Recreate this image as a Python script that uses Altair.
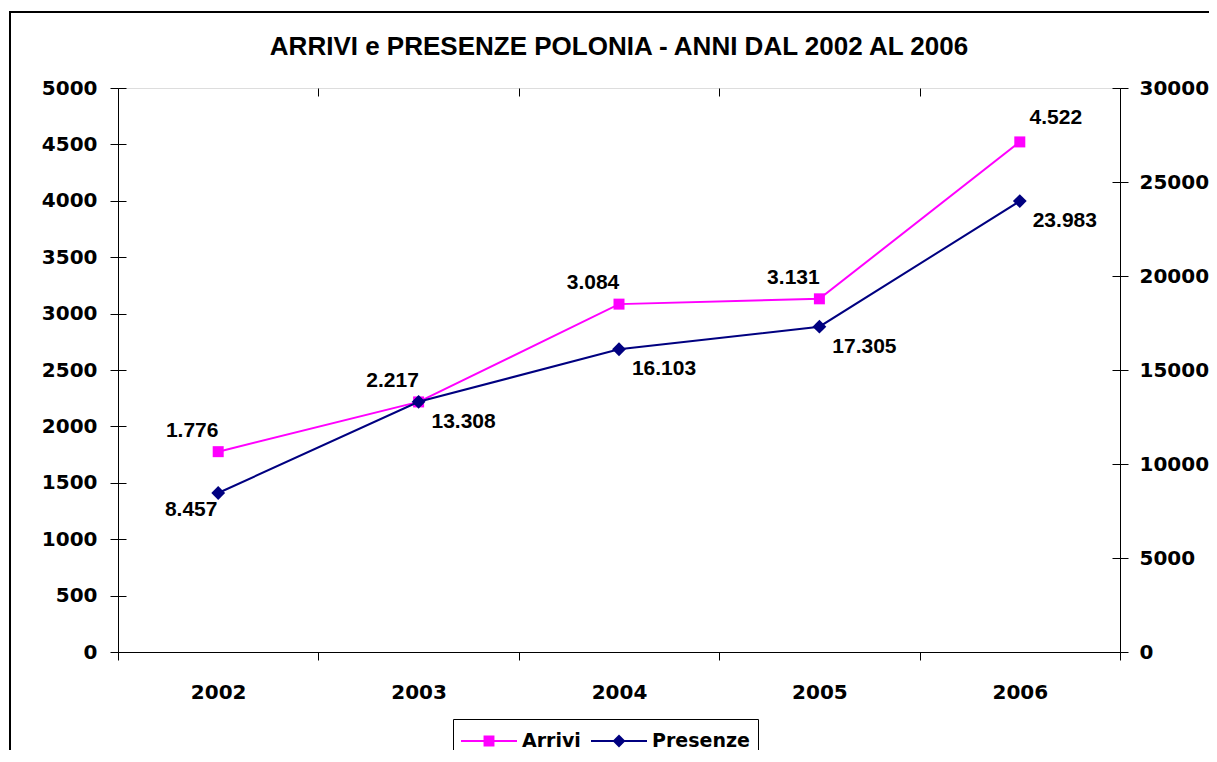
import altair as alt
import pandas as pd

# ---- data ----
anni = ["2002", "2003", "2004", "2005", "2006"]
arrivi = [1776, 2217, 3084, 3131, 4522]
presenze = [8457, 13308, 16103, 17305, 23983]
serie_nomi = ["Arrivi", "Presenze"]
colori = ["#FF00FF", "#000080"]
ticks_sx = list(range(0, 5001, 500))
ticks_dx = list(range(0, 30001, 5000))
titolo = "ARRIVI e PRESENZE POLONIA - ANNI DAL 2002 AL 2006"


def fmt(v):
    return f"{v:,}".replace(",", ".")


df_a = pd.DataFrame({"anno": anni, "valore": arrivi,
                     "label": [fmt(v) for v in arrivi], "serie": "Arrivi"})
df_p = pd.DataFrame({"anno": anni, "valore": presenze,
                     "label": [fmt(v) for v in presenze], "serie": "Presenze"})
df_all = pd.concat([df_a, df_p], ignore_index=True)

W, H = 1002, 564
AX_FONT = "DejaVu Sans"
LBL_FONT = "Liberation Sans"

x_enc = alt.X(
    "anno:N", sort=anni, title=None,
    scale=alt.Scale(type="band", paddingInner=0, paddingOuter=0),
    axis=alt.Axis(labelAngle=0, tickBand="extent", tickSize=8, grid=True,
                  gridDash=[8, 3000], gridColor="black", gridOpacity=1,
                  domainColor="black", tickColor="black",
                  labelFont=AX_FONT, labelFontSize=20, labelFontWeight="bold",
                  labelColor="black", labelPadding=22),
)

y_a = alt.Y(
    "valore:Q", title=None,
    scale=alt.Scale(domain=[0, 5000], nice=False),
    axis=alt.Axis(values=ticks_sx, format="d", tickSize=8, grid=True,
                  gridDash=[8, 3000], gridColor="black", gridOpacity=1,
                  domainColor="black", tickColor="black",
                  labelFont=AX_FONT, labelFontSize=20, labelFontWeight="bold",
                  labelColor="black", labelPadding=13),
)
y_p = alt.Y(
    "valore:Q", title=None,
    scale=alt.Scale(domain=[0, 30000], nice=False),
    axis=alt.Axis(orient="right", values=ticks_dx, format="d", tickSize=8, grid=True,
                  gridDash=[8, 3000], gridColor="black", gridOpacity=1,
                  domainColor="black", tickColor="black",
                  labelFont=AX_FONT, labelFontSize=20, labelFontWeight="bold",
                  labelColor="black", labelPadding=11),
)

txt_style = dict(font=LBL_FONT, fontSize=21, fontWeight="bold", color="black",
                 baseline="middle", align="center")

base_a = alt.Chart(df_a).encode(x=x_enc, y=y_a)
layer_a = alt.layer(
    base_a.mark_line(color=colori[0], strokeWidth=2),
    base_a.mark_point(shape="square", filled=True, size=121, color=colori[0], opacity=1),
    base_a.transform_filter(alt.datum.anno != "2006")
          .mark_text(dx=-26, dy=-21, **txt_style).encode(text="label:N"),
    base_a.transform_filter(alt.datum.anno == "2006")
          .mark_text(dx=36, dy=-24, **txt_style).encode(text="label:N"),
)

base_p = alt.Chart(df_p).encode(x=x_enc, y=y_p)
layer_p = alt.layer(
    base_p.mark_line(color=colori[1], strokeWidth=2),
    base_p.mark_point(shape="diamond", filled=True, size=190, color=colori[1], opacity=1),
    base_p.transform_filter(alt.datum.anno == "2002")
          .mark_text(dx=-27, dy=17, **txt_style).encode(text="label:N"),
    base_p.transform_filter(alt.datum.anno != "2002")
          .mark_text(dx=45, dy=20, **txt_style).encode(text="label:N"),
)

# legend symbols: line + marker
paths = [
    "M-1,-0.07H3V0.07H-1Z M0.61,-0.39H1.39V0.39H0.61Z",
    "M-1,-0.07H3V0.07H-1Z M1,-0.46L1.46,0L1,0.46L0.54,0Z",
]
leg_def = alt.Legend(orient="none", legendX=335, legendY=631, direction="horizontal",
                     title=None, strokeColor="black", fillColor="white", padding=8,
                     symbolSize=784, symbolOpacity=1, symbolStrokeWidth=0,
                     labelFont=AX_FONT, labelFontSize=19, labelFontWeight="bold",
                     labelColor="black", labelOffset=33, columnPadding=10,
                     labelBaseline="middle")
legend_layer = alt.Chart(df_all).mark_point(filled=True, opacity=0).encode(
    x=x_enc, y=alt.value(0),
    color=alt.Color("serie:N", scale=alt.Scale(domain=serie_nomi, range=colori), legend=leg_def),
    shape=alt.Shape("serie:N", scale=alt.Scale(domain=serie_nomi, range=paths), legend=leg_def),
)

one = alt.Data(values=[{"k": 1}])
border_left = alt.Chart(one).mark_rule(color="black", strokeWidth=2).encode(
    x=alt.value(-108), y=alt.value(-76), y2=alt.value(900))
border_top = alt.Chart(one).mark_rule(color="black", strokeWidth=2).encode(
    x=alt.value(-109), x2=alt.value(1200), y=alt.value(-76))

chart = alt.layer(layer_a, layer_p, legend_layer, border_left, border_top).resolve_scale(
    y="independent"
).properties(
    width=W, height=H,
    autosize=alt.AutoSizeParams(type="none"),
    padding={"left": 110, "top": 80, "right": 89, "bottom": 98},
    title=alt.TitleParams(titolo, font=LBL_FONT, fontSize=26, fontWeight="bold",
                          anchor="middle", frame="group", offset=-70,
                          baseline="alphabetic", color="black"),
).configure_view(fill="#C0C0C0", stroke="#808080", strokeWidth=1
).configure(background="white")

chart.save("out.html", embed_options={"renderer": "svg", "actions": False})
